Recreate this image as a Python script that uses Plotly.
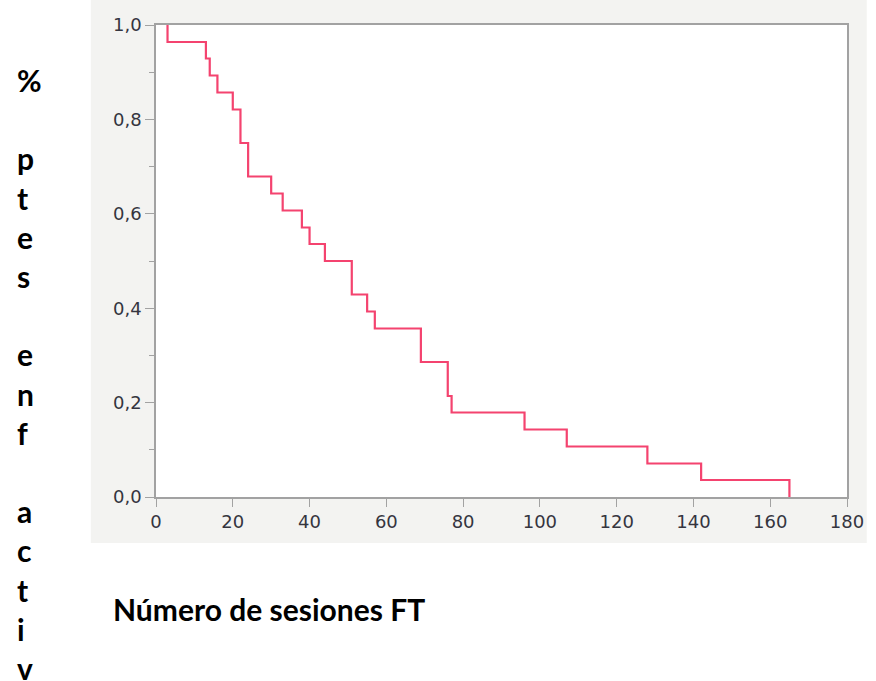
import plotly.graph_objects as go

# Kaplan-Meier style step data
event_times = [3, 13, 14, 16, 20, 22, 24, 30, 33, 38, 40, 44, 51, 55, 57, 69, 76, 77, 96, 107, 128, 142, 165]
survival = [0.964, 0.929, 0.893, 0.857, 0.821, 0.750, 0.679, 0.643, 0.607, 0.571, 0.536, 0.500,
            0.429, 0.393, 0.357, 0.286, 0.214, 0.179, 0.143, 0.107, 0.071, 0.036, 0.000]
start_value = 1.0

x_ticks = [0, 20, 40, 60, 80, 100, 120, 140, 160, 180]
y_ticks = [0.0, 0.2, 0.4, 0.6, 0.8, 1.0]
y_ticktext = ["0,0", "0,2", "0,4", "0,6", "0,8", "1,0"]

x_title = "Número de sesiones FT"
y_letters = ["%", "", "p", "t", "e", "s", "", "e", "n", "f", "", "a", "c", "t", "i", "v"]

W, H = 876, 681
L, R, T, B = 156, 856, 25, 497  # plot area in pixels

def px_x(px):
    return (px - L) / (R - L)

def px_y(py):
    return (B - py) / (B - T)

fig = go.Figure()
fig.add_trace(go.Scatter(
    x=[event_times[0]] + event_times,
    y=[start_value] + survival,
    mode="lines",
    line=dict(color="#f4436f", width=2.2, shape="hv"),
    showlegend=False,
    hoverinfo="skip",
))

tick_font = dict(family="DejaVu Sans, Liberation Sans, Arial", size=18, color="#35353f")

fig.update_layout(
    width=W, height=H,
    margin=dict(l=L, r=W - R, t=T, b=H - B, pad=0),
    paper_bgcolor="white",
    plot_bgcolor="rgba(0,0,0,0)",
    xaxis=dict(
        range=[0, 180], tickvals=x_ticks, ticktext=[str(v) for v in x_ticks],
        showgrid=False, zeroline=False, showline=True, linecolor="#a2a2a2", linewidth=1.5,
        mirror=True, ticks="outside", ticklen=8, tickcolor="#a2a2a2", tickwidth=1.2,
        tickfont=tick_font,
    ),
    yaxis=dict(
        range=[0, 1], tickvals=y_ticks, ticktext=y_ticktext,
        showgrid=False, zeroline=False, showline=True, linecolor="#a2a2a2", linewidth=1.5,
        mirror=True, ticks="outside", ticklen=9, tickcolor="#a2a2a2", tickwidth=1.2,
        tickfont=tick_font,
        minor=dict(dtick=0.1, ticks="outside", ticklen=5, tickcolor="#a2a2a2", showgrid=False),
    ),
)

# light gray panel behind the chart
fig.add_shape(type="rect", xref="paper", yref="paper",
              x0=px_x(90), x1=px_x(876), y0=px_y(543), y1=px_y(0),
              fillcolor="#f3f3f1", line=dict(width=0), layer="below")
fig.add_shape(type="rect", xref="paper", yref="paper",
              x0=0, x1=1, y0=0, y1=1,
              fillcolor="white", line=dict(width=0), layer="below")

title_font = dict(family="Lato, Open Sans, sans-serif", size=30, color="black", weight="bold")

fig.add_annotation(text=x_title, xref="paper", yref="paper",
                   x=px_x(110), y=px_y(609), xanchor="left", yanchor="middle",
                   showarrow=False, font=title_font)

line_step = 39.2
for i, ch in enumerate(y_letters):
    if ch:
        fig.add_annotation(text=ch, xref="paper", yref="paper",
                           x=px_x(13), y=px_y(80 + i * line_step), xanchor="left", yanchor="middle",
                           showarrow=False, font=title_font)

fig.write_html("out.html",
               config={"displayModeBar": False},
               post_script="document.body.style.margin='0';document.body.style.overflow='hidden';")
